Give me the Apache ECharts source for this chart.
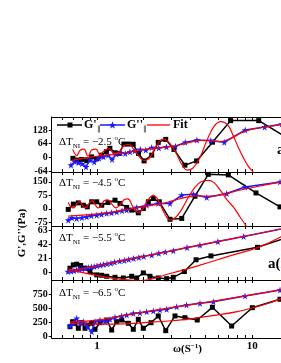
<!DOCTYPE html>
<html><head><meta charset="utf-8">
<script src="https://cdn.jsdelivr.net/npm/echarts@6/dist/echarts.min.js"></script>
<style>html,body{margin:0;padding:0;background:#fff}#c{width:281px;height:363px}</style>
</head><body><div id="c"></div>
<script>
// ---------- data ----------
const xTickValues = [0.6,0.7,0.8,0.9,1,2,3,4,5,6,7,8,9,10,20];
const xLabelValues = [1,10];
const yLabels1 = [-64,0,64,128];
const yLabels2 = [-75,0,75,150];
const yLabels3 = [0,21,42,63];
const yLabels4 = [0,250,500,750];
const panelTitles = ['\u22122.5','\u22124.5','\u22125.5','\u22126.5'];
const legendNames = ["G'", "G''", 'Fit'];

// panel 1 (dT = -2.5)
const p1_gp_w = [0.70,0.747,0.797,0.858,0.924,0.995,1.07,1.15,1.21,1.31,1.39,1.49,1.59,1.71,1.85,2.01,2.25,2.48,2.77,3.13,3.68,4.38,5.54,7.25,11.0,20];
const p1_gp   = [-5,-13,-10,-16,2,-7,10,26,42,21,18,62,62,61,18,-17,10,70,84,37,-37,-17,71,172,172,58];
const p1_gpp_w = [0.68,0.72,0.76,0.80,0.85,0.90,0.96,1.03,1.10,1.18,1.25,1.33,1.42,1.52,1.63,1.75,1.90,2.06,2.25,2.5,2.8,3.2,3.7,4.4,5.4,6.6,9.0,12,15.5,20];
const p1_gpp   = [-37,-20,-25,-30,-45,-13,-22,-5,2,10,-10,15,21,18,26,30,37,34,46,44,49,52,70,81,78,70,128,142,156,168];
const p1_fit1_w = [0.698,0.740,0.777,0.825,0.875,0.929,0.985,1.045,1.110,1.195,1.287,1.386,1.492,1.607,1.731,1.864,2.007,2.194,2.434,2.661,2.908,3.227,3.526,3.798,4.152,4.605,5.108,5.667,6.288,6.975,7.51,8.09,8.71,9.38,10.1,10.9];
const p1_fit1   = [37,8,32,38,5,35,38,12,30,42,18,25,55,60,35,5,-15,0,60,85,70,20,-35,-60,-50,0,80,145,167,150,104,50,2,-40,-68,-100];
const p1_fit2_w = [0.68,0.8,0.9,1.0,1.2,1.5,1.8,2.2,2.8,3.5,4.3,5.2,6.2,7.2,8.5,10,13,17,20];
const p1_fit2   = [-15,-5,0,5,10,20,32,40,48,60,76,80,74,88,115,132,145,158,166];

// panel 2 (dT = -4.5)
const p2_gp_w = [0.653,0.704,0.758,0.816,0.866,0.924,0.996,1.072,1.177,1.306,1.406,1.553,1.673,1.845,1.987,2.140,2.304,2.519,2.952,3.512,4.276,5.209,7.008,10.56,15.08,20];
const p2_gp   = [-3,26,33,20,11,39,39,20,35,48,30,8,-7,-22,2,39,57,39,-58,-53,70,191,188,88,11,-50];
const p2_gpp_w = [0.653,0.69,0.74,0.80,0.858,0.92,0.996,1.07,1.155,1.24,1.339,1.45,1.553,1.801,2.089,2.481,2.952,3.512,4.170,5.087,6.842,8.974,15.08,20];
const p2_gpp   = [-62,-50,-53,-48,-44,-38,-35,-30,-25,-22,-17,-10,-7,8,20,30,30,76,81,63,85,121,149,160];
const p2_fit1_w = [0.653,0.680,0.711,0.743,0.777,0.813,0.850,0.888,0.929,0.971,1.015,1.061,1.110,1.177,1.249,1.326,1.406,1.492,1.583,1.705,1.837,1.978,2.130,2.304,2.471,2.701,2.952,3.227,3.526,3.855,4.276,4.674,5.209,5.667,6.194,6.872,7.545,8.333,9.203,9.95];
const p2_fit1   = [35,10,5,30,40,15,5,30,45,25,5,15,45,50,25,5,20,50,55,10,-20,0,50,75,50,-20,-62,-45,0,60,120,150,158,145,105,50,11,-45,-99,-150];
const p2_fit2_w = [0.653,0.8,1.0,1.3,1.7,2.2,2.8,3.5,4.3,5.3,6.5,8,10,14,20];
const p2_fit2   = [-40,-35,-28,-15,2,18,35,58,72,70,80,100,118,142,162];

// panel 3 (dT = -5.5)
const p3_gp_w = [0.670,0.704,0.740,0.785,0.837,0.901,0.996,1.072,1.155,1.306,1.477,1.673,1.801,1.987,2.194,2.481,2.809,3.099,3.651,4.343,5.417,10.80,20];
const p3_gp   = [6.5,11.4,12.4,10.4,6.5,1.5,-3.4,-4,-5.5,-7,-8,-5.5,-8,-0.5,-5.5,-8,-9,-7,1.5,19,24.7,37.4,58];
const p3_gpp_w = [0.65,0.68,0.71,0.74,0.77,0.80,0.84,0.88,0.92,0.96,1.0,1.05,1.1,1.16,1.23,1.3,1.4,1.5,1.6,1.72,1.86,2.0,2.25,2.5,2.75,3.1,3.8,4.6,6.0,8.8,20];
const p3_gpp   = [1.5,2,3,4,5,5.5,6.5,7.5,8.5,9,10,11,12,13,14,15.5,17,18,19.5,21,22.5,24,26,28.5,30.5,32.5,37,40.5,46,53.5,70];
const p3_fit1_w = [0.653,1.892,3.0,4.6,7.0,10.8,15,20];
const p3_fit1   = [5,-12,-1,11,24,37,52,70];
const p3_fit2_w = [0.653,1,2,5,10,20];
const p3_fit2   = [1.5,10,24,42.5,56,70];

// panel 4 (dT = -6.5)
const p4_gp_w = [0.670,0.697,0.722,0.758,0.797,0.837,0.866,0.924,0.971,1.045,1.155,1.243,1.339,1.442,1.590,1.713,1.845,1.987,2.227,2.481,2.770,3.178,3.684,4.420,5.534,7.366,10.0,15.08,20];
const p4_gp   = [168,258,229,139,240,139,198,229,121,240,288,108,258,288,229,121,301,139,240,361,96,361,330,288,517,180,510,662,780];
const p4_gpp_w = [0.670,0.704,0.740,0.777,0.816,0.866,0.924,0.971,1.045,1.126,1.212,1.306,1.442,1.553,1.713,1.892,2.089,2.304,2.546,2.809,3.259,3.775,4.605,5.61,8.974,15.08,20];
const p4_gpp   = [180,229,319,229,258,168,78,258,288,258,301,337,361,379,409,420,438,451,469,481,528,559,590,618,721,829,870];
const p4_fit1_w = [0.67,1,1.5,2,3,4.5,6,8,10,13,15,20];
const p4_fit1   = [225,215,220,240,275,330,380,440,505,600,665,790];
const p4_fit2_w = [0.67,1,1.5,2,3,5,8,12,15,20];
const p4_fit2   = [250,285,370,430,510,605,700,780,830,880];

// ---------- chart ----------
const FONT = '"Liberation Serif", "Times New Roman", serif';
const STAR = 'path://M50,0L61,35L98,35L68,57L79,91L50,70L21,91L32,57L2,35L39,35Z';
const BLUE = '#1a1aff', RED = '#ff0000';
const zip = (w, v) => w.map((x, i) => [x, v[i]]);

const panels = [
  {top:117, h:55, min:-69, max:189, labels:yLabels1, gp:[p1_gp_w,p1_gp], gpp:[p1_gpp_w,p1_gpp], f1:[p1_fit1_w,p1_fit1], f2:[p1_fit2_w,p1_fit2]},
  {top:172, h:54, min:-95, max:204, labels:yLabels2, gp:[p2_gp_w,p2_gp], gpp:[p2_gpp_w,p2_gpp], f1:[p2_fit1_w,p2_fit1], f2:[p2_fit2_w,p2_fit2]},
  {top:226, h:54, min:-11, max:69, labels:yLabels3, gp:[p3_gp_w,p3_gp], gpp:[p3_gpp_w,p3_gpp], f1:[p3_fit1_w,p3_fit1], f2:[p3_fit2_w,p3_fit2]},
  {top:280, h:58, min:-36, max:1009, labels:yLabels4, gp:[p4_gp_w,p4_gp], gpp:[p4_gpp_w,p4_gpp], f1:[p4_fit1_w,p4_fit1], f2:[p4_fit2_w,p4_fit2]}
];

const GRID_LEFT = 52, GRID_W = 247;
const grid = [], xAxis = [], yAxis = [], series = [];
const axisLine = {show:true, onZero:false, lineStyle:{color:'#000', width:1}};
panels.forEach((p, i) => {
  grid.push({left:GRID_LEFT, top:p.top, width:GRID_W, height:p.h, outerBoundsMode:'none', containLabel:false});
  xAxis.push({type:'log', logBase:10, gridIndex:i, min:0.511, max:20, position:'bottom',
    axisLine, splitLine:{show:false},
    axisTick:{show:true, inside:true, length:3, customValues:xTickValues, lineStyle:{color:'#000'}},
    axisLabel:{show:i===3, customValues:xLabelValues, margin:3, color:'#000', fontFamily:FONT, fontWeight:'bold', fontSize:11,
      formatter: v => String(Math.round(v))}});
  xAxis.push({type:'log', logBase:10, gridIndex:i, min:0.511, max:20, position:'top',
    axisLine, splitLine:{show:false},
    axisTick:{show:true, inside:true, length:3, customValues:xTickValues, lineStyle:{color:'#000'}},
    axisLabel:{show:false}});
  yAxis.push({type:'value', gridIndex:i, min:p.min, max:p.max, position:'left',
    axisLine, splitLine:{show:false},
    axisTick:{show:true, inside:false, length:3, customValues:p.labels, lineStyle:{color:'#000'}},
    axisLabel:{customValues:p.labels, margin:4, color:'#000', fontFamily:FONT, fontWeight:'bold', fontSize:10}});
  series.push({name:legendNames[0], type:'line', xAxisIndex:2*i, yAxisIndex:i, data:zip(p.gp[0],p.gp[1]),
    symbol:'rect', symbolSize:5, lineStyle:{color:'#000', width:1.5}, itemStyle:{color:'#000'}, z:3});
  series.push({name:legendNames[1], type:'line', xAxisIndex:2*i, yAxisIndex:i, data:zip(p.gpp[0],p.gpp[1]),
    symbol:STAR, symbolSize:7, lineStyle:{color:BLUE, width:1.5}, itemStyle:{color:BLUE}, z:4});
  series.push({name:legendNames[2], type:'line', xAxisIndex:2*i, yAxisIndex:i, data:zip(p.f1[0],p.f1[1]),
    smooth:0.4, showSymbol:false, symbol:'none', lineStyle:{color:RED, width:1.2}, itemStyle:{color:RED}, z:5});
  series.push({name:legendNames[2], type:'line', xAxisIndex:2*i, yAxisIndex:i, data:zip(p.f2[0],p.f2[1]),
    smooth:0.4, showSymbol:false, symbol:'none', lineStyle:{color:RED, width:1.2}, itemStyle:{color:RED}, z:5});
});

const sub = {fontSize:7, fontFamily:FONT, padding:[8,0,0,0], verticalAlign:'bottom', color:'#000'};
const sup = {fontSize:7, fontFamily:FONT, padding:[0,0,7,0], verticalAlign:'top', color:'#000'};
const annTops = [135, 176, 231, 286];
const graphic = panelTitles.map((t, i) => ({
  type:'text', left:59, top:annTops[i], z:10,
  style:{text:'\u0394T{s|NI} = ' + t + ' {o|o}C', fill:'#000', fontSize:11, fontFamily:FONT,
    rich:{s:sub, o:sup}}
}));
graphic.push({type:'text', left:268, top:257, z:10, style:{text:'a(i)', fill:'#000', fontSize:15, fontWeight:'bold', fontFamily:FONT}});
graphic.push({type:'text', left:277, top:143, z:10, style:{text:'a(i)', fill:'#000', fontSize:15, fontWeight:'bold', fontFamily:FONT}});
graphic.push({type:'text', x:22, y:233, rotation:Math.PI/2, z:10,
  style:{text:"G',G''(Pa)", fill:'#000', fontSize:11, fontWeight:'bold', fontFamily:FONT, align:'center', verticalAlign:'middle'}});
graphic.push({type:'text', left:173, top:343, z:10,
  style:{text:'\u03c9(S{p|\u22121})', fill:'#000', fontSize:11, fontWeight:'bold', fontFamily:FONT,
    rich:{p:{fontSize:7, fontWeight:'bold', fontFamily:FONT, padding:[0,0,6,0], verticalAlign:'top', color:'#000'}}}});

// legend key (drawn as graphics to match the original key)
const LY = 125;
const starPts = [];
for (let k = 0; k < 10; k++) {
  const r = k % 2 === 0 ? 4 : 1.6, ang = -Math.PI / 2 + k * Math.PI / 5;
  starPts.push([112.5 + r * Math.cos(ang), LY + 0.3 + r * Math.sin(ang)]);
}
const legRich = {g:{fontSize:12, fontWeight:'bold', fontFamily:FONT, color:'#000'},
                 s:{fontSize:7, fontFamily:FONT, padding:[8,0,0,0], verticalAlign:'bottom', color:'#000'}};
graphic.push({type:'line', z:10, shape:{x1:57, y1:LY, x2:82, y2:LY}, style:{stroke:'#000', lineWidth:1.5}});
graphic.push({type:'rect', z:10, shape:{x:67.5, y:LY-2.5, width:5, height:5}, style:{fill:'#000'}});
graphic.push({type:'text', z:10, x:84, y:LY, style:{text:'{g|' + legendNames[0] + '}{s|\u2225}', rich:legRich, verticalAlign:'middle', fill:'#000'}});
graphic.push({type:'line', z:10, shape:{x1:100, y1:LY, x2:125, y2:LY}, style:{stroke:BLUE, lineWidth:1.5}});
graphic.push({type:'polygon', z:10, shape:{points:starPts}, style:{fill:BLUE}});
graphic.push({type:'text', z:10, x:127, y:LY, style:{text:'{g|' + legendNames[1] + '}{s|\u2225}', rich:legRich, verticalAlign:'middle', fill:'#000'}});
graphic.push({type:'line', z:10, shape:{x1:147, y1:LY, x2:170, y2:LY}, style:{stroke:RED, lineWidth:1.3}});
graphic.push({type:'text', z:10, x:173, y:LY, style:{text:'{g|' + legendNames[2] + '}', rich:legRich, verticalAlign:'middle', fill:'#000'}});

const option = {
  animation:false,
  backgroundColor:'#fff',
  grid, xAxis, yAxis, series, graphic
};
const chart = echarts.init(document.getElementById('c'), null, {renderer:'canvas'});
chart.setOption(option);

// calibrate the grids so that one log decade spans the same pixels as in the original
function pixelOf(v) {
  let r;
  try { r = chart.convertToPixel({gridIndex:0}, [v, 0]); } catch (e) { r = null; }
  if (Array.isArray(r)) return r[0];
  return NaN;
}
const TARGET_1 = 97, TARGET_DECADE = 155.3;
let L = GRID_LEFT, W = GRID_W;
for (let it = 0; it < 4; it++) {
  const a = pixelOf(1), b = pixelOf(10);
  if (!isFinite(a) || !isFinite(b) || b === a) break;
  const k = TARGET_DECADE / (b - a);
  const newW = W * k;
  const newL = TARGET_1 - (a - L) * k;
  if (Math.abs(newW - W) < 0.2 && Math.abs(newL - L) < 0.2) break;
  if (Math.abs(newL - GRID_LEFT) > 6 || newW > 320) break;
  W = newW; L = newL;
  chart.setOption({grid: panels.map(p => ({left:L, top:p.top, width:W, height:p.h, outerBoundsMode:'none'}))});
}
</script></body></html>
